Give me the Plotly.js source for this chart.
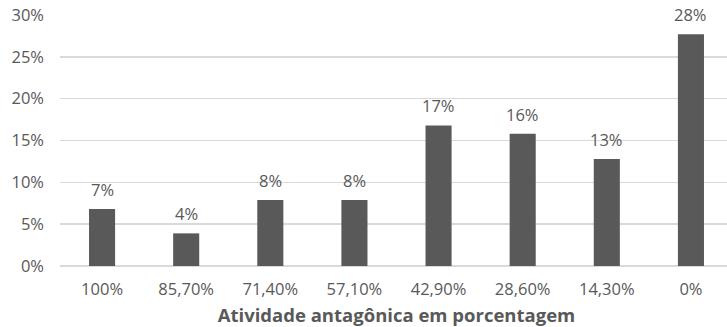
<!DOCTYPE html>
<html><head><meta charset="utf-8">
<script src="https://cdn.plot.ly/plotly-3.0.1.min.js"></script>
<style>html,body{margin:0;padding:0;overflow:hidden;background:#fff}</style>
</head><body>
<div id="chart" style="width:733px;height:327px"></div>
<script>
var categories = ["100%", "85,70%", "71,40%", "57,10%", "42,90%", "28,60%", "14,30%", "0%"];
var values = [6.8, 3.9, 7.9, 7.9, 16.8, 15.8, 12.8, 27.7];
var labels = ["7%", "4%", "8%", "8%", "17%", "16%", "13%", "28%"];
var yTickVals = [0, 5, 10, 15, 20, 25, 30];
var yTickText = ["0%", "5%", "10%", "15%", "20%", "25%", "30%"];

var font = "'Open Sans', 'Liberation Sans', sans-serif";
var trace = {
  type: "bar", x: categories, y: values,
  marker: {color: "#595959"},
  hoverinfo: "none"
};
var annotations = categories.map(function(c, i){
  return {x: c, y: values[i], text: labels[i], showarrow: false, yanchor: "bottom", yshift: 6,
    font: {family: font, size: 16.5, color: "#595959"}};
});
Plotly.newPlot("chart", [trace], {
  width: 733, height: 327,
  margin: {l: 60, r: 0, t: 15, b: 61},
  paper_bgcolor: "#fff", plot_bgcolor: "#fff",
  bargap: 0.69,
  showlegend: false,
  annotations: annotations,
  xaxis: {
    type: "category", showgrid: false, showline: false, zeroline: false, ticks: "",
    tickfont: {family: font, size: 16.5, color: "#595959"},
    ticklabelstandoff: 11,
    title: {text: "Atividade antagônica em porcentagem", font: {family: font, size: 18.5, color: "#595959", weight: "bold"}, standoff: 11}
  },
  yaxis: {
    range: [0, 30], tickvals: yTickVals, ticktext: yTickText,
    showgrid: true, gridcolor: "#d9d9d9", gridwidth: 1.5,
    zeroline: true, zerolinecolor: "#d9d9d9", zerolinewidth: 1.5,
    showline: false, ticks: "",
    tickfont: {family: font, size: 16.5, color: "#595959"},
    ticklabelstandoff: 15
  }
}, {staticPlot: true, displayModeBar: false});
</script>
</body></html>
